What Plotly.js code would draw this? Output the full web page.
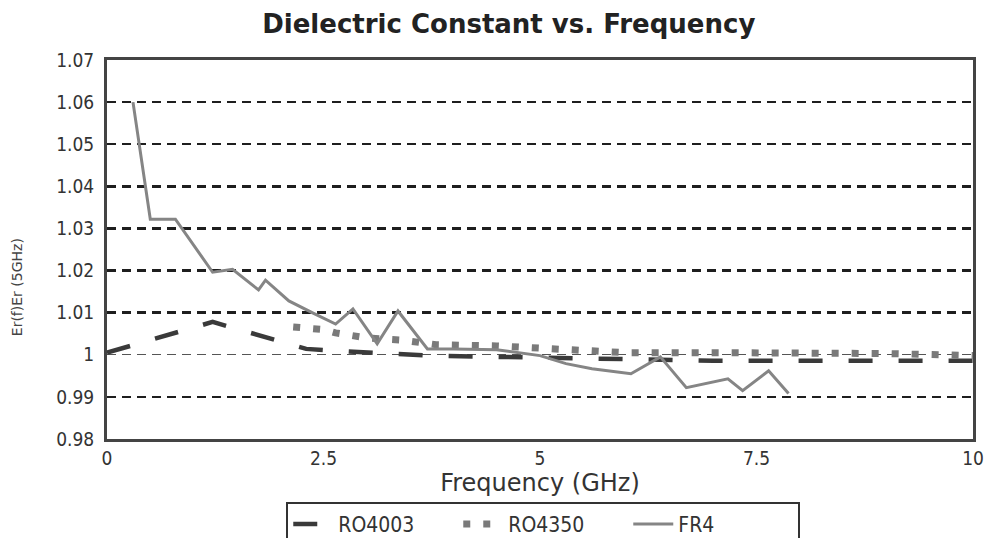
<!DOCTYPE html>
<html>
<head>
<meta charset="utf-8">
<script src="https://cdn.plot.ly/plotly-3.0.1.min.js"></script>
<style>html,body{margin:0;padding:0;background:#fff;overflow:hidden;}#chart{width:988px;height:538px;}</style>
</head>
<body>
<div id="chart"></div>
<script>
// Data
const fr4Freq = [0.3, 0.5, 0.79, 1.22, 1.45, 1.75, 1.83, 2.1, 2.38, 2.64, 2.84, 3.12, 3.36, 3.70, 4.0, 4.5, 5.0, 5.3, 5.6, 6.05, 6.39, 6.69, 7.17, 7.34, 7.64, 7.87];
const fr4Vals = [1.060, 1.0322, 1.0322, 1.0196, 1.0203, 1.0154, 1.0177, 1.0128, 1.0099, 1.0073, 1.0109, 1.0026, 1.0104, 1.0014, 1.0014, 1.0012, 0.9998, 0.9979, 0.9967, 0.9955, 0.9995, 0.9922, 0.9943, 0.9915, 0.9962, 0.9908];

const ro4003Freq = [0, 1.22, 2.3, 2.6, 3.7, 5.0, 6.0, 7.0, 8.5, 10];
const ro4003Vals = [1.0005, 1.0078, 1.0014, 1.001, 0.9998, 0.9993, 0.9988, 0.9986, 0.9986, 0.9986];

const ro4350Freq = [2.15, 2.5, 2.64, 3.0, 3.4, 3.8, 4.5, 5.0, 5.5, 6.0, 7.0, 8.0, 9.0, 10];
const ro4350Vals = [1.0066, 1.006, 1.0052, 1.0040, 1.0035, 1.0024, 1.0021, 1.0017, 1.001, 1.0005, 1.0005, 1.0005, 1.0003, 0.9998];

const xTicks = [0, 2.5, 5, 7.5, 10];
const yTicks = [0.98, 0.99, 1, 1.01, 1.02, 1.03, 1.04, 1.05, 1.06, 1.07];
const gridMajor = [0.99, 1.01, 1.02, 1.03, 1.04, 1.05, 1.06];
const gridThin = [1];

const narrow = '"Liberation Sans Narrow", "DejaVu Sans Condensed", "Liberation Sans", sans-serif';
const tickFont = {family: narrow, size: 19, color: '#333'};

const traces = [
  {x: ro4003Freq, y: ro4003Vals, name: 'RO4003', mode: 'lines',
   line: {color: '#3a3a3a', width: 4.5, dash: '24px,26px'}},
  {x: ro4350Freq, y: ro4350Vals, name: 'RO4350', mode: 'lines',
   line: {color: '#7a7a7a', width: 7, dash: '7px,13px'}},
  {x: fr4Freq, y: fr4Vals, name: 'FR4', mode: 'lines',
   line: {color: '#858585', width: 3}}
];

const layout = {
  width: 988, height: 538,
  margin: {l: 107, r: 15, t: 60, b: 99, autoexpand: false},
  paper_bgcolor: '#fff', plot_bgcolor: '#fff',
  title: {text: 'Dielectric Constant vs. Frequency', x: 0.515, xanchor: 'center', y: 0.955, yanchor: 'middle',
          font: {family: '"DejaVu Sans", sans-serif', size: 26, weight: 'bold', color: '#222'}},
  xaxis: {range: [0, 10], tickvals: xTicks, ticktext: xTicks.map(String), showgrid: false, zeroline: false,
          showline: true, mirror: true, linecolor: '#444', linewidth: 3, ticks: '', tickfont: tickFont,
          title: {text: 'Frequency (GHz)', standoff: 2, font: {family: '"DejaVu Sans", sans-serif', size: 24, color: '#333'}}},
  yaxis: {range: [0.98, 1.07], tickvals: yTicks, showgrid: false, zeroline: false,
          showline: true, mirror: true, linecolor: '#444', linewidth: 3, ticks: '', tickfont: tickFont, ticklabelstandoff: 6},
  yaxis2: {range: [0.98, 1.07], overlaying: 'y', tickvals: gridMajor, showticklabels: false, ticks: '',
           showgrid: true, gridcolor: '#1e1e1e', gridwidth: 2.5, griddash: '9px,6px', zeroline: false, showline: false},
  yaxis3: {range: [0.98, 1.07], overlaying: 'y', tickvals: gridThin, showticklabels: false, ticks: '',
           showgrid: true, gridcolor: '#555', gridwidth: 1.3, griddash: '9px,6px', zeroline: false, showline: false},
  legend: {orientation: 'h', x: 0.207, xanchor: 'left', y: -0.166, yanchor: 'top',
           bordercolor: '#333', borderwidth: 2, bgcolor: '#fff',
           font: {family: narrow, size: 21, color: '#333'},
           entrywidth: 115, entrywidthmode: 'pixels', itemwidth: 40, tracegroupgap: 0},
  annotations: [{text: 'Er(f)Er (5GHz)', xref: 'paper', yref: 'paper', x: -0.103, y: 0.40,
                 xanchor: 'center', yanchor: 'middle', textangle: -90, showarrow: false,
                 font: {family: '"DejaVu Sans", sans-serif', size: 14, color: '#444'}}],
  showlegend: true
};

// invisible traces that activate the grid-only overlay axes
traces.push({x: [0], y: [1], yaxis: 'y2', mode: 'markers', marker: {opacity: 0}, showlegend: false, hoverinfo: 'skip'});
traces.push({x: [0], y: [1], yaxis: 'y3', mode: 'markers', marker: {opacity: 0}, showlegend: false, hoverinfo: 'skip'});

Plotly.newPlot('chart', traces, layout, {staticPlot: true});
</script>
</body>
</html>
